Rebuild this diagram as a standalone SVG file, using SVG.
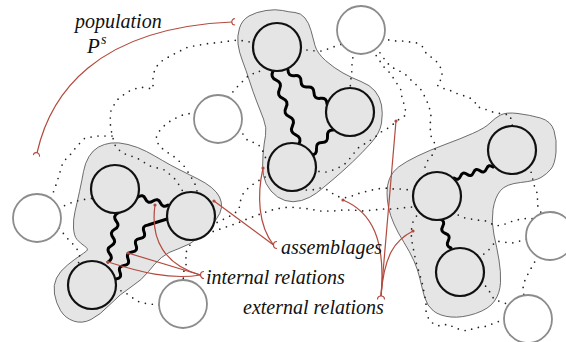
<svg xmlns="http://www.w3.org/2000/svg" width="566" height="342" viewBox="0 0 566 342">
  <defs>
    <style>
      .blob { fill:#e5e5e5; stroke:#4a4a4a; stroke-width:0.8; }
      .agent { fill:#e5e5e5; stroke:#111; stroke-width:2.2; }
      .free { fill:#fff; stroke:#8c8c8c; stroke-width:1.8; }
      .ext { fill:none; stroke:#222; stroke-width:1.7; stroke-linecap:round; stroke-linejoin:round; stroke-dasharray:0 7; }
      .int { fill:none; stroke:#000; stroke-width:3; stroke-linecap:round; stroke-linejoin:round; }
      .note { fill:none; stroke:#b34a3e; stroke-width:1.2; }
      .dot { fill:#b34a3e; }
      .lbl { font-family:"Liberation Serif", serif; font-style:italic; font-size:20px; fill:#111; }
    </style>
    <marker id="cap" viewBox="-1 -4 8 8" markerWidth="8" markerHeight="8" refX="0" refY="0" orient="auto-start-reverse" markerUnits="userSpaceOnUse">
      <path d="M3,-3.2 A3.2,3.2 0 0 0 3,3.2" fill="none" stroke="#b34a3e" stroke-width="1.1"/>
    </marker>
  </defs>

  <!-- assemblage outlines -->
  <g id="assemblage-top">
    <path class="blob" d="M238,44 Q237,36 239.5,28 Q242,20 249,16 Q256,12 266,10.5 Q276,9 282.5,10.5 Q289,12 295,12.5 Q301,13 305,18 Q309,23 311,30.5 Q313,38 315,45.5 Q317,53 325.5,60.5 Q334,68 343,73 Q352,78 361,81.5 Q370,85 375,91 Q380,97 381.5,105 Q383,113 381.5,123 Q380,133 371,143 Q362,153 352.5,162 Q343,171 333,179.5 Q323,188 316.5,193 Q310,198 301.5,200.5 Q293,203 285,200.5 Q277,198 271,191 Q265,184 263.5,175.5 Q262,167 263,155 Q264,143 265.5,135.5 Q267,128 263.5,119 Q260,110 256.5,101 Q253,92 249.5,81 Q246,70 242.5,61 Q239,52 238,44 Z"/>
  </g>
  <g id="assemblage-left">
    <path class="blob" d="M89,156.5 Q93,150 98.5,147 Q104,144 111,143 Q118,142 128,144.5 Q138,147 146.5,151.5 Q155,156 162.5,160.5 Q170,165 180,170 Q190,175 198,179 Q206,183 211.5,187.5 Q217,192 219.5,197 Q222,202 221.5,207.5 Q221,213 215.5,220.5 Q210,228 200,236.5 Q190,245 179,248.5 Q168,252 161.5,257.5 Q155,263 148.5,271.5 Q142,280 131,287 Q120,294 110,304.5 Q100,315 91,319.5 Q82,324 73.5,321 Q65,318 60.5,310.5 Q56,303 54.5,294 Q53,285 56.5,278 Q60,271 67.5,265 Q75,259 79.5,256 Q84,253 86.5,251 Q89,249 84.5,246 Q80,243 77,239.5 Q74,236 73.5,228 Q73,220 75,211.5 Q77,203 79.5,191.5 Q82,180 83.5,171.5 Q85,163 89,156.5 Z"/>
  </g>
  <g id="assemblage-right">
    <path class="blob" d="M387,192.5 Q387,185 389.5,178.5 Q392,172 398.5,167 Q405,162 417.5,156 Q430,150 445,144.5 Q460,139 472.5,133.5 Q485,128 490,123 Q495,118 500.5,115 Q506,112 518,113.5 Q530,115 540.5,118 Q551,121 554,130.5 Q557,140 556,152 Q555,164 551,169 Q547,174 541,177.5 Q535,181 520.5,182.5 Q506,184 500.5,190.5 Q495,197 493,209.5 Q491,222 494,235 Q497,248 499,260 Q501,272 500.5,282.5 Q500,293 494.5,301 Q489,309 475.5,313.5 Q462,318 451,317 Q440,316 433.5,311 Q427,306 424.5,297 Q422,288 420,279 Q418,270 414,261 Q410,252 404,242.5 Q398,233 394,224 Q390,215 388.5,207.5 Q387,200 387,192.5 Z"/>
  </g>

  <!-- relations: dotted = external, wavy = internal -->
  <g id="connectors">
    <path class="ext" d="M256,43 L238,40 L222,42 L205,44 L188,47 L176,53 L163,60 L155,68 L153,78 L153,89 L140,87 L127,92 L117,100 L111,110 L110,122 L112,135 L116,148 L125,154 L137,158 L150,166 L165,170 L176,180 L185,195"/>
    <path class="ext" d="M112,136 L98,136 L85,138 L77,146 L70,155 L63,162 L60,172 L57,182 L52,196 L45,205"/>
    <path class="ext" d="M264,66 L258,73 L250,74 L244,80 L236,88 L228,98"/>
    <path class="ext" d="M196,113 L185,114 L176,118 L167,123 L160,130 L156,138 L159,146 L167,152 L176,158 L184,166 L190,175 L196,186 L198,196"/>
    <path class="ext" d="M236,133 L243,134 L248,141 L256,143 L262,148 L264,156 L270,162"/>
    <path class="ext" d="M272,176 L265,177 L258,181 L249,187 L243,194 L240,202 L239,210 L232,215 L224,219 L216,223 L208,224"/>
    <path class="ext" d="M200,236 L207,233 L215,231 L223,228 L232,225 L240,222 L247,219 L255,216 L263,213 L272,210 L281,208 L290,207 L300,208 L310,209 L320,211 L333,211 L343,210 L353,210 L363,211 L373,210 L383,209 L393,209 L402,208 L411,207 L418,208"/>
    <path class="ext" d="M301,186 L305,190 L312,190 L320,188 L328,190 L336,196 L344,198 L352,196 L360,193 L368,191 L376,189 L385,188 L394,189 L402,189 L410,190 L415,191"/>
    <path class="ext" d="M350,45 L354,52 L352,62 L352,70 L351,78 L350,90"/>
    <path class="ext" d="M300,50 L308,50 L316,51 L323,51 L330,48 L345,43"/>
    <path class="ext" d="M372,50 L378,58 L383,66 L390,73 L396,82 L401,90 L402,98 L405,107 L406,115 L398,120 L390,127 L381,132 L374,138 L366,143 L358,148 L351,157 L346,163 L340,167 L333,170 L326,172 L313,171"/>
    <path class="ext" d="M376,47 L385,60 L391,67 L398,70 L406,75 L413,82 L420,88 L425,97 L429,106 L431,116 L430,126 L431,136 L436,146 L434,153 L428,160 L425,167 L428,175"/>
    <path class="ext" d="M382,38 L389,40 L396,41 L403,41 L410,42 L417,43 L423,47 L426,53 L431,57 L436,61 L440,66 L442,73 L442,79 L437,83 L438,86 L445,89 L452,91 L458,94 L465,96 L470,98 L475,102 L477,107 L483,108 L489,111 L497,113 L503,114 L510,115 L513,128"/>
    <path class="ext" d="M452,212 L458,215 L465,218 L477,220 L486,221 L496,226 L505,224 L513,221 L521,219 L530,218 L536,220"/>
    <path class="ext" d="M478,258 L487,252 L496,241 L503,242 L512,243 L520,241 L530,238"/>
    <path class="ext" d="M480,282 L488,288 L491,295 L495,300 L502,302 L512,306"/>
    <path class="ext" d="M538,256 L533,265 L529,272 L525,280 L523,288 L524,296"/>
    <path class="ext" d="M528,166 L532,174 L533,181 L535,188 L538,195 L537,203 L539,210 L544,216"/>
    <path class="ext" d="M420,210 L413,222 L411,232 L412,242 L414,252 L416,262 L419,272 L422,282 L424,292 L426,302 L426,311 L429,320 L435,325 L441,326 L448,324 L455,328 L462,330 L468,331 L474,328 L481,327 L488,326 L494,323 L500,321 L507,317"/>
    <path class="ext" d="M58,208 L66,205 L73,202 L81,200 L94,198"/>
    <path class="ext" d="M59,228 L63,233 L67,238 L72,243 L77,249 L80,257 L78,265 L75,270"/>
    <path class="ext" d="M114,290 L123,291 L130,296 L137,301 L143,303 L150,304 L160,305"/>
    <path class="ext" d="M193,239 L189,247 L185,254 L187,262 L184,270 L183,282"/>

    <path class="int" d="M288,70 Q288,76.6 294.5,75.7 T301,81.3 T307.5,87 T314,92.7 T320.5,98.3 T327,104"/>
    <path class="int" d="M273,71 Q269.9,77.3 276.25,80.1 T279.5,89.25 T282.75,98.4 T286,107.5 T289.25,116.6 T292.5,125.75 T295.75,134.9 T299,144"/>
    <path class="int" d="M333,130 Q326.9,130.1 327.5,136.25 T322,142.5 T316.5,148.75 T311,155"/>
    <path class="int" d="M138,197 Q143,193.6 145.5,199 T153,201 T160.5,203 T168,205"/>
    <path class="int" d="M118,213 Q112.3,216.1 116.3,221.2 T114.7,229.3 T113,237.5 T111.3,245.7 T109.7,253.8 T108,262"/>
    <path class="int" d="M167,219 L148,225 Q141.7,225.8 144,231.75 T140,238.5 T136,245.25 T132,252 T128,258.75 T124,265.5 T120,272.25 T116,279"/>
    <path class="int" d="M493,167 Q488.6,163.6 486.5,168.8 T480,170.7 T473.5,172.5 T467,174.3 T460.5,176.2 T454,178"/>
    <path class="int" d="M440,219 Q445.6,221 442.75,226.25 T445.5,233.5 T448.25,240.75 T451,248"/>
  </g>

  <!-- agents inside assemblages -->
  <g id="agent-1"><circle class="agent" cx="277" cy="47" r="24"/></g>
  <g id="agent-2"><circle class="agent" cx="350" cy="112" r="24"/></g>
  <g id="agent-3"><circle class="agent" cx="292" cy="167" r="24"/></g>
  <g id="agent-4"><circle class="agent" cx="115" cy="189" r="24"/></g>
  <g id="agent-5"><circle class="agent" cx="191" cy="216" r="24"/></g>
  <g id="agent-6"><circle class="agent" cx="92" cy="285" r="24"/></g>
  <g id="agent-7"><circle class="agent" cx="512" cy="150" r="24"/></g>
  <g id="agent-8"><circle class="agent" cx="437" cy="196" r="24"/></g>
  <g id="agent-9"><circle class="agent" cx="460" cy="272" r="24"/></g>

  <!-- free agents -->
  <g id="free-1"><circle class="free" cx="361" cy="30" r="24"/></g>
  <g id="free-2"><circle class="free" cx="218" cy="119" r="24"/></g>
  <g id="free-3"><circle class="free" cx="37" cy="218" r="24"/></g>
  <g id="free-4"><circle class="free" cx="183" cy="304" r="24"/></g>
  <g id="free-5"><circle class="free" cx="550" cy="236" r="24"/></g>
  <g id="free-6"><circle class="free" cx="528" cy="319" r="24"/></g>

  <!-- annotations -->
  <g id="annotations">
    <path class="note" d="M37,153 C50,95 95,28 232,22" marker-start="url(#cap)" marker-end="url(#cap)"/>
    <path class="note" d="M214,201 L273.5,245"/>
    <path class="note" d="M263,168 C257,195 258,225 273.5,245"/>
    <path class="note" d="M277,241.5 A3.5,3.5 0 0 0 277,248.5"/>
    <path class="note" d="M155,205 C150,240 165,265 200.5,275"/>
    <path class="note" d="M128,253 L200.5,275"/>
    <path class="note" d="M108,262 C140,272 170,280 200.5,275"/>
    <path class="note" d="M204,271.5 A3.5,3.5 0 0 0 204,278.5"/>
    <path class="note" d="M343,200 C372,212 386,240 381,296"/>
    <path class="note" d="M396,121 L381,296"/>
    <path class="note" d="M413,231 C395,240 384,255 381,296"/>
    <path class="note" d="M377.5,299.5 A3.5,3.5 0 0 1 384.5,299.5"/>
    <circle class="dot" cx="214" cy="201" r="1.6"/>
    <circle class="dot" cx="263" cy="168" r="1.6"/>
    <circle class="dot" cx="155" cy="205" r="1.6"/>
    <circle class="dot" cx="128" cy="253" r="1.6"/>
    <circle class="dot" cx="108" cy="262" r="1.6"/>
    <circle class="dot" cx="343" cy="200" r="1.6"/>
    <circle class="dot" cx="396" cy="121" r="1.6"/>
    <circle class="dot" cx="413" cy="231" r="1.6"/>
  </g>

  <g id="labels">
    <text class="lbl" x="75" y="28">population</text>
    <text class="lbl" x="87" y="53" style="font-size:21px">P</text>
    <text class="lbl" x="101" y="44" style="font-size:14px">s</text>
    <text class="lbl" x="281" y="254">assemblages</text>
    <text class="lbl" x="206" y="284">internal relations</text>
    <text class="lbl" x="243" y="314">external relations</text>
  </g>
</svg>
